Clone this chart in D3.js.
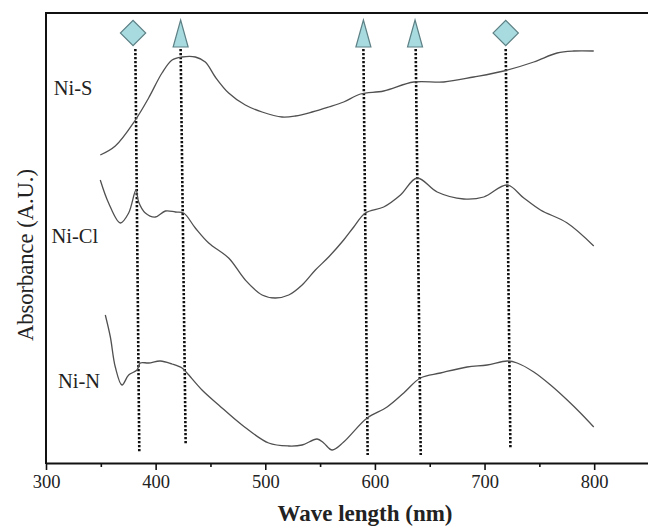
<!DOCTYPE html>
<head>
  <meta charset="utf-8">
  <style>
    body { margin: 0; background: #fff; }
    text { font-family: "Liberation Serif", "Times New Roman", serif; fill: #222; }
  </style>
  <title>Absorbance spectra Ni-S / Ni-Cl / Ni-N</title>
</head>
<body>
  <script src="https://cdn.jsdelivr.net/npm/d3@7"></script>
  <script>
    // spectra: wavelength (nm) and absorbance (A.U., offset per trace)
    const niS_nm  = [349.5,363.2,381.5,393.6,405.8,415.0,424.1,436.2,445.3,454.4,466.6,481.8,497.1,515.3,527.5,542.7,557.8,571.5,586.8,608.0,635.4,662.8,690.1,717.5,744.9,766.2,781.4,799.6];
    const niS_abs = [3.08,3.17,3.43,3.65,3.90,4.03,4.06,4.06,4.01,3.86,3.70,3.58,3.51,3.46,3.47,3.51,3.56,3.61,3.69,3.72,3.81,3.81,3.86,3.92,4.01,4.10,4.12,4.12];

    const niCl_nm  = [349.5,357.1,367.8,375.4,382.1,384.5,390.6,399.7,408.9,418.0,425.5,436.2,448.4,466.6,481.8,497.1,509.2,521.4,533.6,545.7,557.8,571.5,580.7,591.3,608.0,623.3,638.5,656.8,681.0,699.3,720.6,735.8,751.0,775.4,799.6];
    const niCl_abs = [2.83,2.60,2.40,2.50,2.73,2.61,2.50,2.46,2.52,2.51,2.50,2.35,2.20,2.05,1.83,1.68,1.65,1.68,1.78,1.93,2.06,2.23,2.36,2.50,2.56,2.68,2.85,2.71,2.64,2.66,2.78,2.65,2.53,2.40,2.17];

    const niN_nm  = [354.1,358.7,363.2,369.3,375.4,383.0,386.0,393.6,404.3,415.0,424.1,428.6,442.3,457.5,478.8,503.1,521.4,533.6,547.3,553.3,561.0,571.5,592.9,611.1,626.3,641.5,659.8,684.1,702.4,720.6,729.7,744.9,760.2,775.4,787.5,799.6];
    const niN_abs = [1.48,1.26,0.96,0.78,0.88,0.93,1.00,1.00,1.02,0.99,0.95,0.90,0.73,0.58,0.38,0.20,0.17,0.18,0.24,0.20,0.13,0.21,0.45,0.56,0.70,0.85,0.90,0.96,0.98,1.02,1.00,0.91,0.78,0.63,0.50,0.36];

    const seriesNames = ["Ni-S", "Ni-Cl", "Ni-N"];
    const labelNm  = [307, 305, 311];
    const labelAbs = [3.68, 2.20, 0.75];

    // band markers: shape, marker wavelength, dotted line top/bottom wavelength and bottom absorbance
    const markerShape = ["diamond", "triangle", "triangle", "triangle", "diamond"];
    const markerNm    = [379.4, 422.8, 589.5, 636.6, 719.3];
    const lineTopNm   = [381.5, 422.8, 589.5, 637.2, 719.3];
    const lineBotNm   = [385.1, 427.4, 593.4, 641.8, 723.6];
    const lineBotAbs  = [0.11, 0.18, 0.08, 0.08, 0.15];

    const majorTicks = [300, 400, 500, 600, 700, 800];
    const minorTicks = [350, 450, 550, 650, 750];

    // dimensions
    const margin = {top: 13, right: 0, bottom: 63, left: 46};
    const width = 648 - margin.left - margin.right;
    const height = 526 - margin.top - margin.bottom;

    const x = d3.scaleLinear().domain([300, 850]).range([0, 603]);
    const y = d3.scaleLinear().domain([0, 4.5]).range([height, 0]);

    const svg = d3.select("body").append("svg")
      .attr("width", 648)
      .attr("height", 526)
      .append("g")
      .attr("transform", "translate(" + margin.left + "," + margin.top + ")");

    // top frame line
    svg.append("line")
      .attr("x1", 0).attr("x2", 610)
      .attr("y1", 0).attr("y2", 0)
      .attr("stroke", "#111").attr("stroke-width", 2);

    // dotted guide lines
    svg.selectAll(".guide")
      .data(markerNm)
      .enter().append("line")
      .attr("class", "guide")
      .attr("x1", (d, i) => x(lineTopNm[i]))
      .attr("x2", (d, i) => x(lineBotNm[i]))
      .attr("y1", y(4.14))
      .attr("y2", (d, i) => y(lineBotAbs[i]))
      .attr("stroke", "#111")
      .attr("stroke-width", 2.6)
      .attr("stroke-dasharray", "2.2,1.8");

    // spectra
    const line = d3.line()
      .x(d => x(d[0]))
      .y(d => y(d[1]))
      .curve(d3.curveCatmullRom.alpha(0.5));

    const spectra = [d3.zip(niS_nm, niS_abs), d3.zip(niCl_nm, niCl_abs), d3.zip(niN_nm, niN_abs)];
    svg.selectAll(".spectrum")
      .data(spectra)
      .enter().append("path")
      .attr("class", "spectrum")
      .attr("d", line)
      .attr("fill", "none")
      .attr("stroke", "#505050")
      .attr("stroke-width", 1.3);

    // curve labels
    svg.selectAll(".name")
      .data(seriesNames)
      .enter().append("text")
      .attr("class", "name")
      .attr("x", (d, i) => x(labelNm[i]))
      .attr("y", (d, i) => y(labelAbs[i]))
      .style("font-size", "20.5px")
      .text(d => d);

    // markers
    const diamond = d3.symbol().type(d3.symbolSquare).size(320);
    svg.selectAll(".marker")
      .data(markerNm)
      .enter().append("path")
      .attr("class", "marker")
      .attr("d", (d, i) => markerShape[i] === "diamond" ? diamond() : "M0,-27L7.5,0L-7.5,0Z")
      .attr("transform", (d, i) => markerShape[i] === "diamond"
        ? "translate(" + x(d) + "," + y(4.30) + ") rotate(45)"
        : "translate(" + x(d) + "," + y(4.16) + ")")
      .attr("fill", "#a7dbe0")
      .attr("stroke", "#5e8186")
      .attr("stroke-width", 1.2);

    // X axis: major ticks with labels, then minor ticks
    const xAxis = svg.append("g")
      .attr("transform", "translate(0," + height + ")")
      .call(d3.axisBottom(x).tickValues(majorTicks).tickSize(7).tickSizeOuter(0).tickPadding(5));
    xAxis.select(".domain").attr("stroke-width", 2).attr("stroke", "#111");
    xAxis.selectAll(".tick line").attr("stroke-width", 1.6).attr("stroke", "#111");
    xAxis.selectAll("text")
      .style("font-family", "'Liberation Serif', serif")
      .style("font-size", "18.5px")
      .attr("fill", "#333");

    const xMinor = svg.append("g")
      .attr("transform", "translate(0," + height + ")")
      .call(d3.axisBottom(x).tickValues(minorTicks).tickSize(4).tickSizeOuter(0).tickFormat(""));
    xMinor.select(".domain").remove();
    xMinor.selectAll(".tick line").attr("stroke-width", 1.6).attr("stroke", "#111");

    // Y axis line (no ticks)
    svg.append("line")
      .attr("x1", 0).attr("x2", 0)
      .attr("y1", -1).attr("y2", height + 1)
      .attr("stroke", "#111").attr("stroke-width", 2);

    // axis titles
    svg.append("text")
      .attr("x", 319)
      .attr("y", height + 58)
      .style("text-anchor", "middle")
      .style("font-size", "23px")
      .style("font-weight", "bold")
      .attr("fill", "#333")
      .text("Wave length (nm)");

    svg.append("text")
      .attr("transform", "rotate(-90)")
      .attr("x", -242)
      .attr("y", -13)
      .style("text-anchor", "middle")
      .style("font-size", "22.5px")
      .attr("fill", "#333")
      .text("Absorbance (A.U.)");
  </script>
</body>
